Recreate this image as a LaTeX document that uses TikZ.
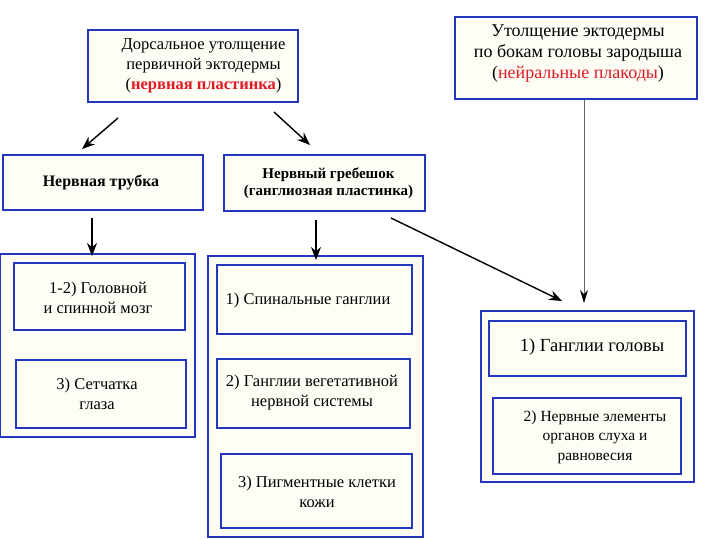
\documentclass[tikz,border=0pt]{standalone}
\usepackage{fontspec}
\setmainfont{Liberation Serif}
\usetikzlibrary{arrows.meta}
\definecolor{bl}{RGB}{35,55,190}
\definecolor{rd}{RGB}{225,25,35}
\definecolor{cream}{RGB}{255,254,246}
\tikzset{
  box/.style={draw=bl, line width=1.5pt, fill=cream},
  lbl/.style={align=center, font=\fontsize{16.5}{20}\selectfont, inner sep=0pt},
  blbl/.style={align=center, font=\bfseries\fontsize{15}{17.5}\selectfont, inner sep=0pt},
  arr/.style={-{Stealth[length=13pt,width=10pt]}, line width=1.4pt, black},
  thinarr/.style={-{Stealth[length=13pt,width=8pt,color=black]}, line width=0.6pt, gray!80!black},
}
\begin{document}
\begin{tikzpicture}[x=1pt,y=-1pt]
\useasboundingbox (0,0) rectangle (720,540);
% top boxes
\draw[box] (88,30) rectangle (298,102);
\node[lbl] (dors) at (203.5,66) {Дорсальное утолщение\\первичной эктодермы\\(\textcolor{rd}{\bfseries нервная пластинка})};
\coordinate (dorsL) at (118,118);
\coordinate (dorsR) at (274,112);
\draw[box] (455,17) rectangle (697,99);
\node[lbl,font=\fontsize{18}{21}\selectfont] (utol) at (578,54) {Утолщение эктодермы\\по бокам головы зародыша\\(\textcolor{rd}{нейральные плакоды})};
\coordinate (utolB) at (584,100);
% second row
\draw[box] (3,155) rectangle (203,210);
\node[blbl,font=\bfseries\fontsize{16}{18}\selectfont] (tube) at (101,183) {Нервная трубка};
\draw[box] (224,155) rectangle (425,211);
\node[blbl] (crest) at (328.5,183) {Нервный гребешок\\(ганглиозная пластинка)};
\coordinate (tubeT) at (82,149);
\coordinate (crestT) at (310,145);
\coordinate (tubeB) at (92,218);
\coordinate (crestB) at (316,220);
\coordinate (crestBR) at (391,218);
% left group
\draw[box] (0,254) rectangle (195,437);
\coordinate (leftT) at (92,256);
\draw[box] (14,263) rectangle (185,330);
\node[lbl] (brain) at (98,298) {1-2) Головной\\и спинной мозг};
\draw[box] (16,360) rectangle (186,428);
\node[lbl] (eye) at (97,394) {3) Сетчатка\\глаза};
% middle group
\draw[box] (208,256) rectangle (423,537);
\coordinate (midT) at (316,260);
\draw[box] (217,265) rectangle (412,334);
\node[lbl] (spin) at (308,301) {1) Спинальные ганглии};
\draw[box] (217,359) rectangle (410,428);
\node[lbl] (veg) at (312,392.5) {2) Ганглии вегетативной\\нервной системы};
\draw[box] (221,454) rectangle (412,528);
\node[lbl] (pig) at (317,492) {3) Пигментные клетки\\кожи};
% right group
\draw[box] (481,311) rectangle (694,482);
\coordinate (rightT) at (562,301);
\coordinate (rightT2) at (584,303);
\draw[box] (489,321) rectangle (686,376);
\node[lbl,font=\fontsize{18.5}{21}\selectfont] (head) at (592,347) {1) Ганглии головы};
\draw[box] (493,398) rectangle (681,474);
\node[lbl,font=\fontsize{15.5}{19.5}\selectfont] (ear) at (595,437) {2) Нервные элементы\\органов слуха и\\равновесия};
% arrows
\draw[arr] (dorsL) -- (tubeT);
\draw[arr] (dorsR) -- (crestT);
\draw[arr] (tubeB) -- (leftT);
\draw[arr] (crestB) -- (midT);
\draw[arr] (crestBR) -- (rightT);
\draw[thinarr] (utolB) -- (rightT2);
\end{tikzpicture}
\end{document}
